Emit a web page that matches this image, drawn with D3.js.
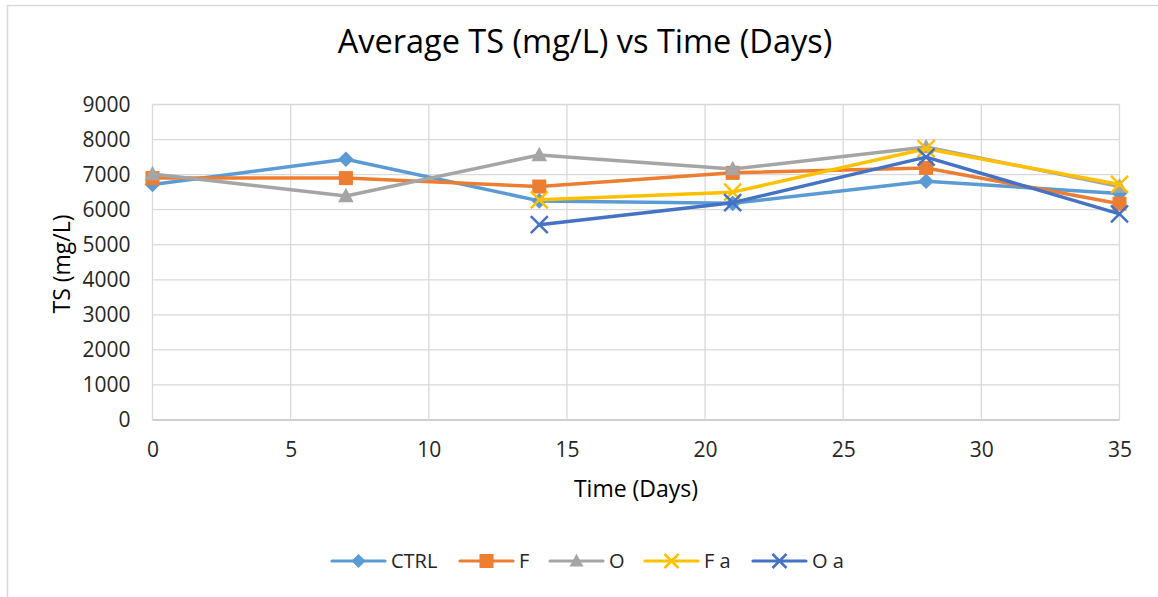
<!DOCTYPE html>
<html><head><meta charset="utf-8">
<script src="https://cdn.jsdelivr.net/npm/d3@7"></script>
<style>body{margin:0;background:#fff}svg{display:block}text{font-family:"Open Sans",sans-serif;fill:#262626}</style>
</head><body><svg id="c" width="1158" height="597"></svg>
<script>
const days = [0, 7, 14, 21, 28, 35];
const seriesNames = ["CTRL", "F", "O", "F a", "O a"];
const ctrlVals = [6720, 7440, 6250, 6180, 6810, 6460];
const fVals = [6900, 6900, 6660, 7050, 7190, 6170];
const oVals = [7020, 6390, 7560, 7160, 7790, 6660];
const faVals = [null, null, 6280, 6500, 7740, 6720];
const oaVals = [null, null, 5570, 6200, 7500, 5880];
const xTicks = [0, 5, 10, 15, 20, 25, 30, 35];
const yTicks = [0, 1000, 2000, 3000, 4000, 5000, 6000, 7000, 8000, 9000];

const colors = ["#5b9bd5", "#ed7d31", "#a5a5a5", "#ffc000", "#4472c4"];
const markers = ["diamond", "square", "triangle", "x", "x"];
const allVals = [ctrlVals, fVals, oVals, faVals, oaVals];

const svg = d3.select("#c");
svg.append("rect").attr("x", 7.5).attr("y", 5.5).attr("width", 1170).attr("height", 610)
  .attr("fill", "#fff").attr("stroke", "#d9d9d9").attr("stroke-width", 1.5);

const L = 152.5, R = 1119.5, T = 104.5, B = 420;
const x = d3.scaleLinear().domain([0, 35]).range([L, R]);
const y = d3.scaleLinear().domain([0, 9000]).range([B, T]);

// grid
const g = svg.append("g");
g.selectAll(".hg").data(yTicks).join("line")
  .attr("x1", L).attr("x2", R).attr("y1", d => y(d)).attr("y2", d => y(d))
  .attr("stroke", d => d === 0 ? "#bfbfbf" : "#d9d9d9").attr("stroke-width", 1.3);
g.selectAll(".vg").data(xTicks).join("line")
  .attr("y1", T).attr("y2", B).attr("x1", d => x(d)).attr("x2", d => x(d))
  .attr("stroke", "#d9d9d9").attr("stroke-width", 1.3);

// axes labels via d3 axes
const ya = svg.append("g").attr("transform", `translate(${L},0)`)
  .call(d3.axisLeft(y).tickValues(yTicks).tickFormat(d3.format("d")).tickSize(0).tickPadding(22));
const xa = svg.append("g").attr("transform", `translate(0,${B})`)
  .call(d3.axisBottom(x).tickValues(xTicks).tickFormat(d3.format("d")).tickSize(0).tickPadding(22));
[ya, xa].forEach(a => { a.select(".domain").remove(); a.selectAll("text").attr("font-size", 21).attr("font-family", '"Open Sans",sans-serif').attr("fill", "#262626"); });

svg.append("text").attr("x", 585).attr("y", 53).attr("text-anchor", "middle")
  .attr("font-size", 32.5).style("fill", "#000").text("Average TS (mg/L) vs Time (Days)");
svg.append("text").attr("x", 636).attr("y", 497).attr("text-anchor", "middle")
  .attr("font-size", 23).style("fill", "#000").text("Time (Days)");
svg.append("text").attr("transform", "translate(70,264) rotate(-90)").attr("text-anchor", "middle")
  .attr("font-size", 23).style("fill", "#000").text("TS (mg/L)");

function marker(sel, type, color, s) {
  if (type === "diamond") sel.append("path").attr("d", `M0,${-s}L${s},0L0,${s}L${-s},0Z`).attr("fill", color);
  else if (type === "square") sel.append("rect").attr("x", -s*0.9).attr("y", -s*0.9).attr("width", s*1.8).attr("height", s*1.8).attr("fill", color);
  else if (type === "triangle") sel.append("path").attr("d", `M0,${-s*1.05}L${s},${s*0.8}L${-s},${s*0.8}Z`).attr("fill", color);
  else sel.append("path").attr("d", `M${-s},${-s}L${s},${s}M${s},${-s}L${-s},${s}`).attr("stroke", color).attr("stroke-width", 2.5).attr("fill", "none");
}

const line = d3.line().defined(d => d.v !== null).x(d => x(d.d)).y(d => y(d.v));
allVals.forEach((vals, i) => {
  const pts = days.map((d, j) => ({ d, v: vals[j] }));
  const sg = svg.append("g");
  sg.append("path").datum(pts).attr("d", line).attr("fill", "none").attr("stroke", colors[i])
    .attr("stroke-width", 3.5).attr("stroke-linejoin", "round").attr("stroke-linecap", "round");
  pts.filter(p => p.v !== null).forEach(p => {
    const m = sg.append("g").attr("transform", `translate(${x(p.d)},${y(p.v)})`);
    marker(m, markers[i], colors[i], markers[i] === "x" ? 8.5 : 7.8);
  });
});

// legend
const legX = [332, 460, 550, 645, 753];
const leg = svg.append("g");
seriesNames.forEach((n, i) => {
  const lg = leg.append("g").attr("transform", `translate(${legX[i]},561)`);
  lg.append("line").attr("x1", 0).attr("x2", 53).attr("stroke", colors[i]).attr("stroke-width", 3.2).attr("stroke-linecap", "round");
  const m = lg.append("g").attr("transform", "translate(26.5,0)");
  marker(m, markers[i], colors[i], markers[i] === "x" ? 7 : (markers[i] === "square" ? 7.8 : 7));
  lg.append("text").attr("x", 59).attr("y", 7).attr("font-size", 20).text(n);
});
</script></body></html>
